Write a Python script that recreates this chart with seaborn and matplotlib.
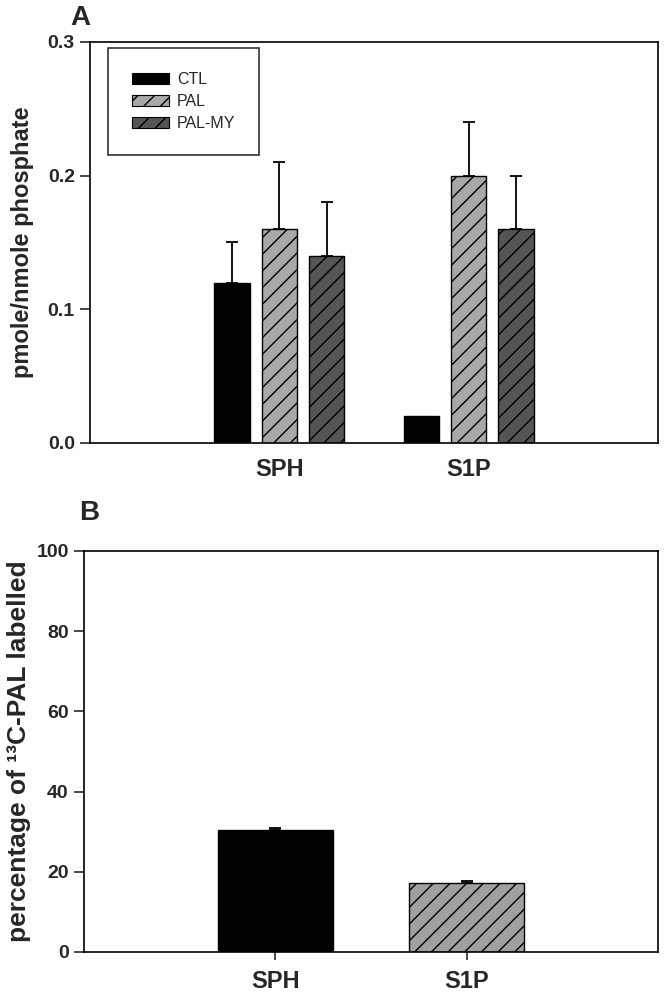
import numpy as np
import pandas as pd
import seaborn as sns
import matplotlib
matplotlib.use("Agg")
import matplotlib.pyplot as plt
from matplotlib.patches import Patch

# ---------------------------------------------------------------------------
# Data
# ---------------------------------------------------------------------------
categories = ["SPH", "S1P"]
treatments = ["CTL", "PAL", "PAL-MY"]

ctl_mean   = [0.12, 0.02]
ctl_err    = [0.03, 0.0]
pal_mean   = [0.16, 0.20]
pal_err    = [0.05, 0.04]
palmy_mean = [0.14, 0.16]
palmy_err  = [0.04, 0.04]

label_pct = [30.5, 17.1]     # percentage of 13C-PAL labelled
label_err = [0.3, 0.6]

a_ticks = [0.0, 0.1, 0.2, 0.3]
b_ticks = [0, 20, 40, 60, 80, 100]

# ---------------------------------------------------------------------------
# Style
# ---------------------------------------------------------------------------
sns.set_style("ticks")
plt.rcParams["font.family"] = ["Liberation Sans", "DejaVu Sans"]
plt.rcParams["hatch.linewidth"] = 1.0

NARROW = ["Liberation Sans Narrow", "Liberation Sans", "DejaVu Sans"]
TREAT_COLORS = {"CTL": "#000000", "PAL": "#a8a8a8", "PAL-MY": "#555555"}
TREAT_HATCH  = {"CTL": "", "PAL": "//", "PAL-MY": "//"}

fig = plt.figure(figsize=(6.67, 9.97), dpi=100)
ax_a = fig.add_axes([0.135, 0.5557, 0.8515, 0.4022])
ax_b = fig.add_axes([0.126, 0.0452, 0.8605, 0.4022])


def style_axes(ax):
    for sp in ax.spines.values():
        sp.set_visible(True)
        sp.set_linewidth(1.2)
        sp.set_color("black")
    ax.tick_params(axis="y", direction="out", length=7, width=1.2, pad=4)
    for lab in ax.get_yticklabels():
        lab.set_family(NARROW)
        lab.set_fontweight("bold")
        lab.set_fontsize(14)
    for lab in ax.get_xticklabels():
        lab.set_fontweight("bold")
        lab.set_fontsize(17)


# ---------------------------------------------------------------------------
# Panel A
# ---------------------------------------------------------------------------
df_a = pd.DataFrame({
    "lipid": categories * 3,
    "treatment": ["CTL"] * 2 + ["PAL"] * 2 + ["PAL-MY"] * 2,
    "value": ctl_mean + pal_mean + palmy_mean,
    "err": ctl_err + pal_err + palmy_err,
})

sns.barplot(data=df_a, x="lipid", y="value", hue="treatment",
            order=categories, hue_order=treatments, palette=TREAT_COLORS,
            width=0.75, gap=0.25, errorbar=None, edgecolor="black",
            linewidth=1.0, legend=False, ax=ax_a)

for cont, tr in zip(ax_a.containers, treatments):
    sub = df_a[df_a["treatment"] == tr].set_index("lipid").loc[categories]
    xs, ys, es = [], [], []
    for bar, err in zip(cont, sub["err"]):
        bar.set_hatch(TREAT_HATCH[tr])
        if err > 0:
            xs.append(bar.get_x() + bar.get_width() / 2)
            ys.append(bar.get_height())
            es.append(err)
    ax_a.errorbar(xs, ys, yerr=[np.zeros(len(es)), es], fmt="none",
                  ecolor="black", elinewidth=1.3, capsize=4.5, capthick=1.3)

ax_a.set_xlim(-1.0, 2.0)
ax_a.set_ylim(0, 0.3)
ax_a.set_yticks(a_ticks)
ax_a.set_yticklabels([f"{t:.1f}" for t in a_ticks])
ax_a.set_xlabel("")
ax_a.set_ylabel("pmole/nmole phosphate", fontsize=17, fontweight="bold",
                labelpad=10)
ax_a.tick_params(axis="x", length=0, pad=11)
style_axes(ax_a)

handles = [Patch(facecolor=TREAT_COLORS[t], edgecolor="black",
                 hatch=TREAT_HATCH[t], linewidth=0.8, label=t)
           for t in treatments]
leg = ax_a.legend(handles=handles, loc="upper left",
                  bbox_to_anchor=(0.032, 0.985), borderaxespad=0,
                  fontsize=11.5, handlelength=2.3, handleheight=0.7,
                  handletextpad=0.5, labelspacing=0.45, borderpad=1.5,
                  fancybox=False, frameon=True)
leg.get_frame().set_edgecolor("black")
leg.get_frame().set_linewidth(1.2)

# ---------------------------------------------------------------------------
# Panel B
# ---------------------------------------------------------------------------
sns.barplot(x=categories, y=label_pct, hue=categories,
            palette=["#000000", "#a0a0a0"], width=0.6, errorbar=None,
            edgecolor="black", linewidth=1.0, legend=False, ax=ax_b)

xs, ys = [], []
for cont, hatch in zip(ax_b.containers, ["", "//"]):
    for bar in cont:
        bar.set_hatch(hatch)
        xs.append(bar.get_x() + bar.get_width() / 2)
        ys.append(bar.get_height())
ax_b.errorbar(xs, ys, yerr=[np.zeros(len(label_err)), label_err], fmt="none",
              ecolor="black", elinewidth=1.3, capsize=4.5, capthick=1.3)

ax_b.set_xlim(-1.0, 2.0)
ax_b.set_ylim(0, 100)
ax_b.set_yticks(b_ticks)
ax_b.set_yticklabels([str(t) for t in b_ticks])
ax_b.set_ylabel("percentage of \u00b9\u00b3C-PAL labelled", fontsize=19,
                fontweight="bold", labelpad=4)
ax_b.tick_params(axis="x", direction="out", length=6, width=1.2, pad=7)
style_axes(ax_b)

# Panel letters
fig.text(0.105, 0.995, "A", fontsize=20, fontweight="bold", va="top")
fig.text(0.119, 0.498, "B", fontsize=20, fontweight="bold", va="top")

fig.savefig("out.png", dpi=100)
plt.close(fig)
